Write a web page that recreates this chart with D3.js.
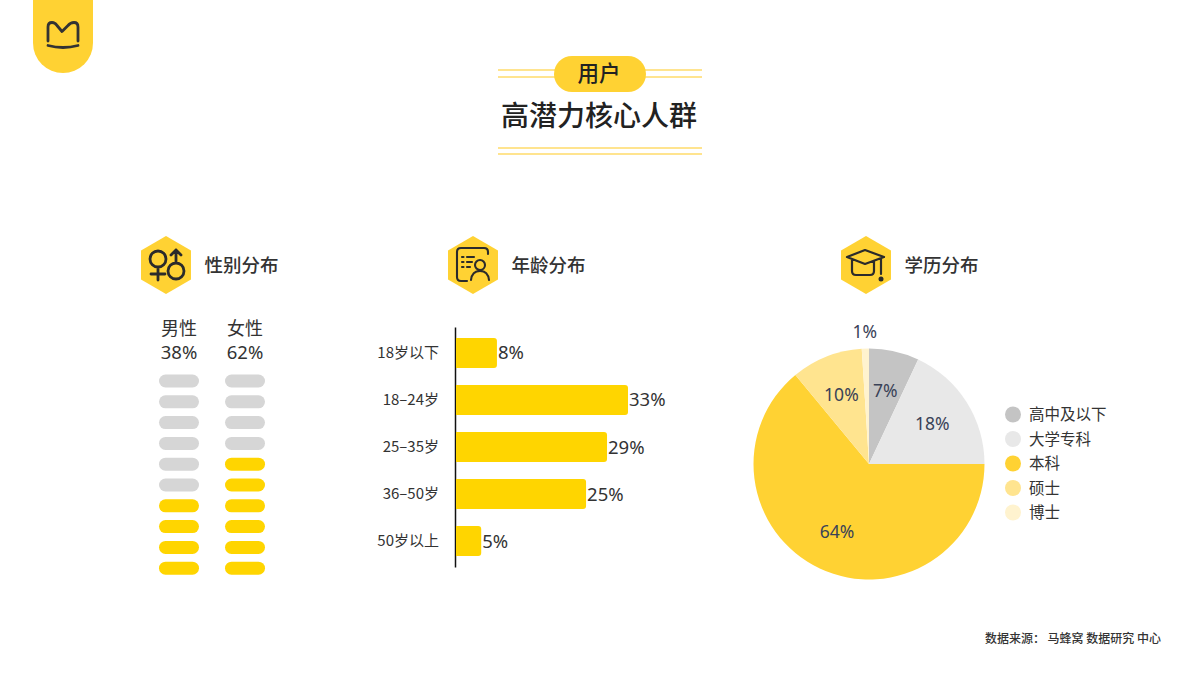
<!DOCTYPE html>
<html>
<head>
<meta charset="utf-8">
<title>高潜力核心人群</title>
<style>
html, body { margin: 0; background: #fff; }
text { font-family: "Noto Sans CJK SC", "Noto Sans", sans-serif; fill: #333; }
.num { font-family: "Noto Sans", "Noto Sans CJK SC", sans-serif; }
.tick text { font-size: 15px; fill: #333; }
</style>
</head>
<body>
<svg id="chart" width="1200" height="675"></svg>
<script src="https://cdn.jsdelivr.net/npm/d3@7/dist/d3.min.js"></script>
<script>
var genders = ["男性", "女性"];
var genderShares = [38, 62];
var ageGroups = ["18岁以下", "18–24岁", "25–35岁", "36–50岁", "50岁以上"];
var ageShares = [8, 33, 29, 25, 5];
var eduLevels = ["高中及以下", "大学专科", "本科", "硕士", "博士"];
var eduShares = [7, 18, 64, 10, 1];
var eduColors = ["#c4c4c4", "#e8e8e8", "#ffd233", "#ffe48f", "#fff3cf"];

var yellow = "#ffd233", barYellow = "#ffd500", dark = "#333", lineYellow = "#ffe48f";
var svg = d3.select("#chart");

// logo tab
svg.append("path").attr("fill", yellow)
  .attr("d", "M33 0H93V43A30 30 0 0 1 33 43Z");
svg.append("path").attr("fill", "none").attr("stroke", dark).attr("stroke-width", 2.8)
  .attr("stroke-linecap", "round").attr("stroke-linejoin", "round")
  .attr("d", "M48 41V27Q48 22.5 52 22.5Q55 22.5 57 25.5L62 31.5L68 25.5Q70.5 22.5 74 22.5Q78 22.5 78 27V41M48 45.5Q63 49.5 78 45.5");

// header
[[498, 702, 70], [498, 702, 77], [498, 702, 148], [498, 702, 154]].forEach(function (l) {
  svg.append("line").attr("x1", l[0]).attr("x2", l[1]).attr("y1", l[2]).attr("y2", l[2])
    .attr("stroke", lineYellow).attr("stroke-width", 2);
});
svg.append("rect").attr("x", 554).attr("y", 56).attr("width", 92).attr("height", 36)
  .attr("rx", 18).attr("fill", yellow);
svg.append("text").attr("x", 599).attr("y", 81).attr("text-anchor", "middle")
  .attr("font-size", 21.5).attr("font-weight", 500).style("fill", "#222").text("用户");
svg.append("text").attr("x", 599).attr("y", 126).attr("text-anchor", "middle")
  .attr("font-size", 28).attr("font-weight", 500).style("fill", "#222").text("高潜力核心人群");

// section headings
function hexagon(cx, cy) {
  var r = 29;
  var pts = d3.range(6).map(function (i) {
    var a = Math.PI / 3 * i;
    return [cx + r * Math.sin(a) * 0.995, cy - r * Math.cos(a)];
  });
  svg.append("path").attr("fill", yellow).attr("d", d3.line()(pts) + "Z");
}
function icon(cx, cy, d, w) {
  svg.append("path").attr("transform", "translate(" + cx + "," + cy + ")")
    .attr("fill", "none").attr("stroke", "#2b2b2b").attr("stroke-width", w)
    .attr("stroke-linecap", "round").attr("stroke-linejoin", "round").attr("d", d);
}
function circlePath(x, y, r) {
  return "M" + (x - r) + " " + y + "a" + r + " " + r + " 0 1 0 " + (2 * r) + " 0a" + r + " " + r + " 0 1 0 " + (-2 * r) + " 0";
}
function heading(cx, label, d, w) {
  hexagon(cx, 265);
  icon(cx, 265, d, w);
  svg.append("text").attr("x", cx + 38.5).attr("y", 272).attr("font-size", 18.5)
    .attr("font-weight", 500).text(label);
}
heading(166, "性别分布", circlePath(-8, -6, 8) + "M-8 2V15M-15 9H-1" + circlePath(10, 6, 8) + "M10 -2V-15M5 -10L10 -15L15 -10", 2.8);
heading(473, "年龄分布", "M15 -11V-13Q15 -17 11 -17H-12Q-16 -17 -16 -13V12Q-16 16 -12 16H-6M-11 -8H-9.5M-6 -8H1M-11 -3H-9.5M-6 -3H-1M-11 2H-9.5M-6 2H-3" + circlePath(7, 0, 5) + "M-2 15Q-1 6 7 6Q15 6 16 15", 2.1);
heading(866, "学历分布", "M-19 -8L-1 -15L18 -8L-1 -1ZM-14 -5V6Q-14 10 -10 10H4Q8 10 8 6V-4M15 -6V9", 2.2);
svg.append("circle").attr("cx", 881).attr("cy", 279).attr("r", 2.5).attr("fill", "#2b2b2b");

// gender pills
var genderX = d3.scaleBand().domain(genders).range([159, 265]).paddingInner(0.394);
var pillY = d3.scaleBand().domain(d3.range(10)).range([374.5, 574.7]).paddingInner(0.375);
var gender = svg.selectAll(".gender").data(genders).join("g").attr("class", "gender");
gender.append("text").attr("x", function (d) { return genderX(d) + genderX.bandwidth() / 2; })
  .attr("y", 335).attr("text-anchor", "middle").attr("font-size", 18).text(function (d) { return d; });
gender.append("text").attr("class", "num").attr("x", function (d) { return genderX(d) + genderX.bandwidth() / 2; })
  .attr("y", 359).attr("text-anchor", "middle").attr("font-size", 18.5)
  .text(function (d, i) { return genderShares[i] + "%"; });
gender.each(function (d, i) {
  var filled = Math.round(genderShares[i] / 10);
  d3.select(this).selectAll("rect").data(pillY.domain()).join("rect")
    .attr("x", genderX(d)).attr("y", function (k) { return pillY(k); })
    .attr("width", genderX.bandwidth()).attr("height", pillY.bandwidth())
    .attr("rx", pillY.bandwidth() / 2)
    .attr("fill", function (k) { return k >= 10 - filled ? barYellow : "#d6d6d6"; });
});

// age bars
var ageX = d3.scaleLinear().domain([0, 33]).range([455, 628]);
var ageY = d3.scaleBand().domain(ageGroups).range([327, 567]).paddingInner(0.36).paddingOuter(0.233);
var ageAxis = svg.append("g").attr("transform", "translate(455,0)")
  .call(d3.axisLeft(ageY).tickSize(0).tickSizeOuter(0).tickPadding(16));
ageAxis.select(".domain").attr("stroke", "#111").attr("stroke-width", 1.5);
var ages = svg.selectAll(".age").data(ageGroups).join("g").attr("class", "age");
ages.append("path").attr("fill", barYellow).attr("d", function (d, i) {
  var x0 = ageX(0) + 1, x1 = ageX(ageShares[i]), y = ageY(d), h = ageY.bandwidth(), r = 3;
  return "M" + x0 + " " + y + "H" + (x1 - r) + "Q" + x1 + " " + y + " " + x1 + " " + (y + r) +
    "V" + (y + h - r) + "Q" + x1 + " " + (y + h) + " " + (x1 - r) + " " + (y + h) + "H" + x0 + "Z";
});
ages.append("text").attr("class", "num").attr("x", function (d, i) { return ageX(ageShares[i]) + 1; })
  .attr("y", function (d) { return ageY(d) + ageY.bandwidth() / 2 + 6.5; })
  .attr("font-size", 18.5).text(function (d, i) { return ageShares[i] + "%"; });

// education pie
var pieG = svg.append("g").attr("transform", "translate(869,464)");
var arcs = d3.pie().sort(null)(eduShares);
var arc = d3.arc().innerRadius(0).outerRadius(115.5);
var labelArc = d3.arc().innerRadius(75).outerRadius(75);
var outerArc = d3.arc().innerRadius(132).outerRadius(132);
pieG.selectAll("path").data(arcs).join("path")
  .attr("d", arc).attr("fill", function (d, i) { return eduColors[i]; });
pieG.selectAll("text").data(arcs).join("text").attr("class", "num")
  .attr("transform", function (d) {
    var c = d.data < 5 ? outerArc.centroid(d) : labelArc.centroid(d);
    return "translate(" + c + ")";
  })
  .attr("text-anchor", "middle").attr("dy", "0.36em").attr("font-size", 17.5)
  .style("fill", "#3a4257").text(function (d) { return d.data + "%"; });

// legend
var legendY = d3.scalePoint().domain(eduLevels).range([414.5, 512.5]);
var legend = svg.selectAll(".legend").data(eduLevels).join("g").attr("class", "legend")
  .attr("transform", function (d) { return "translate(1013," + legendY(d) + ")"; });
legend.append("circle").attr("r", 8).attr("fill", function (d, i) { return eduColors[i]; });
legend.append("text").attr("x", 16).attr("dy", "0.36em").attr("font-size", 15.5).text(function (d) { return d; });

// source
svg.append("text").attr("x", 1161).attr("y", 643).attr("text-anchor", "end")
  .attr("font-size", 12).attr("font-weight", 500).text("数据来源： 马蜂窝 数据研究 中心");
</script>
</body>
</html>
